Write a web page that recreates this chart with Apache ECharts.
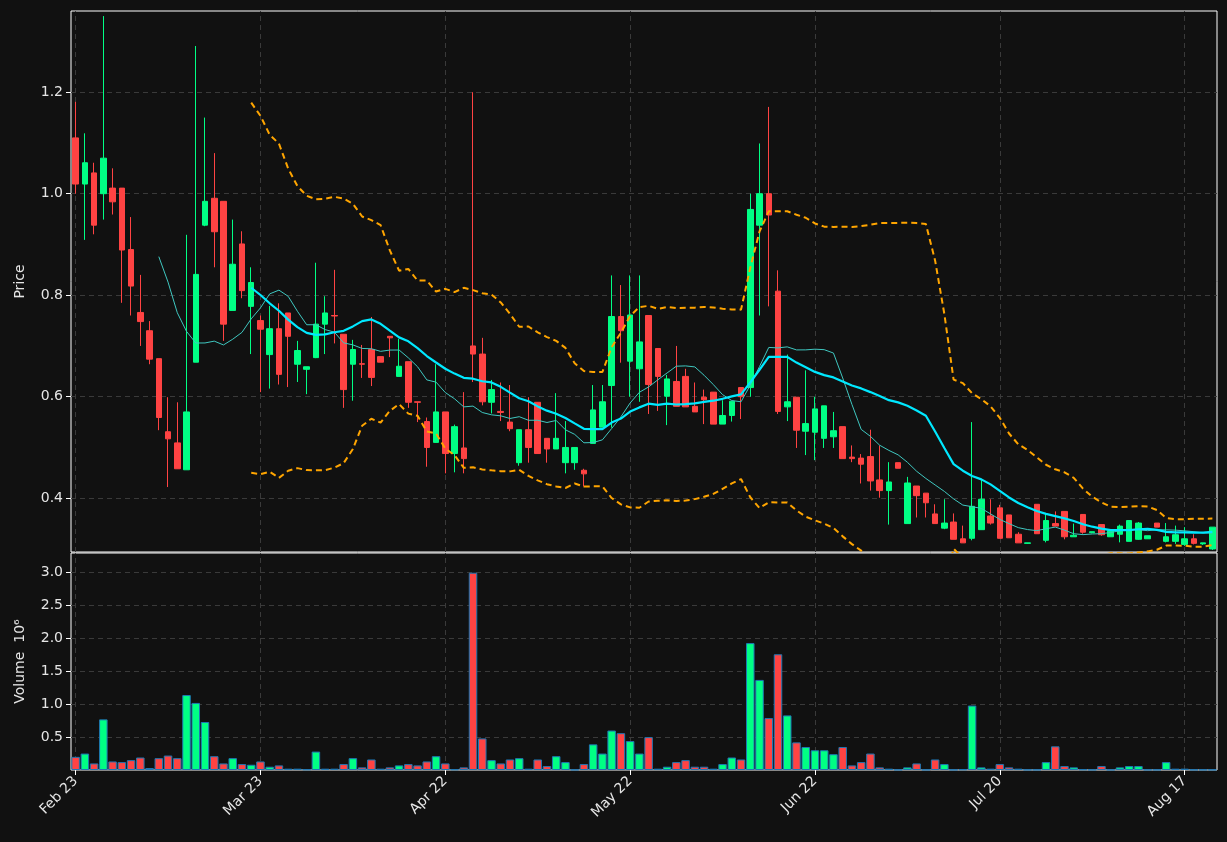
<!DOCTYPE html>
<html>
<head>
<meta charset="utf-8">
<script src="https://cdn.jsdelivr.net/npm/echarts@6/dist/echarts.min.js"></script>
<style>
  html, body { margin: 0; padding: 0; background: #111111; }
  #main { width: 1227px; height: 842px; }
</style>
</head>
<body>
<div id="main"></div>
<script>
// tick labels, one every 20 sessions
var tickLabels = ['Feb 23', 'Mar 23', 'Apr 22', 'May 22', 'Jun 22', 'Jul 20', 'Aug 17'];

var opens = [1.110,1.019,1.041,1.000,1.011,1.011,0.890,0.766,0.730,0.675,
  0.531,0.509,0.456,0.668,0.938,0.991,0.985,0.770,0.901,0.778,
  0.750,0.683,0.734,0.765,0.664,0.654,0.677,0.743,0.760,0.723,
  0.664,0.665,0.693,0.679,0.719,0.640,0.669,0.590,0.551,0.510,
  0.570,0.488,0.499,0.700,0.684,0.589,0.571,0.550,0.470,0.535,
  0.589,0.518,0.497,0.470,0.470,0.455,0.508,0.540,0.622,0.758,
  0.670,0.655,0.760,0.695,0.601,0.630,0.640,0.581,0.599,0.609,
  0.546,0.563,0.618,0.618,0.938,1.000,0.808,0.580,0.599,0.532,
  0.530,0.518,0.521,0.541,0.481,0.479,0.482,0.436,0.415,0.470,
  0.350,0.424,0.410,0.369,0.341,0.353,0.320,0.321,0.338,0.365,
  0.381,0.367,0.329,0.311,0.388,0.317,0.350,0.374,0.324,0.368,
  0.332,0.348,0.324,0.329,0.315,0.319,0.320,0.351,0.315,0.315,
  0.309,0.320,0.310,0.300];
var highs = [1.181,1.119,1.061,1.350,1.050,1.011,0.954,0.840,0.749,0.675,
  0.599,0.589,0.919,1.291,1.150,1.080,0.985,0.949,0.926,0.855,
  0.760,0.779,0.784,0.765,0.710,0.659,0.864,0.798,0.850,0.723,
  0.712,0.702,0.757,0.679,0.719,0.714,0.669,0.590,0.559,0.664,
  0.570,0.545,0.609,1.200,0.716,0.633,0.628,0.623,0.535,0.599,
  0.589,0.518,0.607,0.552,0.500,0.458,0.623,0.623,0.839,0.820,
  0.839,0.839,0.760,0.695,0.643,0.700,0.655,0.628,0.614,0.609,
  0.593,0.591,0.618,1.000,1.099,1.171,0.849,0.683,0.599,0.652,
  0.600,0.582,0.570,0.541,0.504,0.487,0.535,0.504,0.471,0.470,
  0.442,0.424,0.410,0.388,0.398,0.370,0.346,0.550,0.436,0.398,
  0.387,0.367,0.333,0.312,0.388,0.370,0.374,0.374,0.350,0.368,
  0.334,0.348,0.338,0.348,0.356,0.353,0.326,0.351,0.351,0.346,
  0.343,0.329,0.312,0.343];
var lows = [1.000,0.909,0.920,0.949,0.959,0.785,0.760,0.700,0.664,0.534,
  0.422,0.458,0.456,0.668,0.936,0.855,0.710,0.770,0.794,0.684,
  0.609,0.616,0.624,0.619,0.629,0.605,0.676,0.684,0.705,0.578,
  0.592,0.637,0.621,0.668,0.678,0.640,0.578,0.550,0.462,0.510,
  0.449,0.451,0.449,0.629,0.583,0.567,0.552,0.532,0.464,0.470,
  0.488,0.470,0.497,0.449,0.456,0.423,0.508,0.540,0.539,0.667,
  0.600,0.590,0.566,0.572,0.544,0.581,0.580,0.570,0.546,0.546,
  0.546,0.551,0.556,0.600,0.760,0.778,0.566,0.552,0.499,0.485,
  0.475,0.499,0.499,0.478,0.471,0.429,0.415,0.401,0.348,0.459,
  0.350,0.362,0.362,0.350,0.339,0.319,0.312,0.317,0.338,0.348,
  0.321,0.322,0.312,0.310,0.330,0.313,0.345,0.319,0.324,0.330,
  0.331,0.326,0.324,0.313,0.315,0.318,0.320,0.343,0.313,0.310,
  0.306,0.309,0.308,0.298];
var closes = [1.019,1.061,0.938,1.070,0.984,0.889,0.818,0.748,0.674,0.559,
  0.517,0.458,0.570,0.841,0.985,0.925,0.743,0.861,0.809,0.825,
  0.733,0.734,0.644,0.719,0.691,0.659,0.743,0.765,0.759,0.614,
  0.693,0.664,0.638,0.668,0.716,0.660,0.589,0.589,0.500,0.570,
  0.488,0.541,0.478,0.684,0.590,0.614,0.569,0.537,0.535,0.500,
  0.488,0.497,0.518,0.500,0.500,0.448,0.574,0.590,0.758,0.730,
  0.761,0.708,0.624,0.640,0.635,0.581,0.580,0.570,0.594,0.546,
  0.563,0.591,0.600,0.969,1.000,0.958,0.571,0.590,0.534,0.547,
  0.576,0.582,0.533,0.478,0.478,0.467,0.434,0.415,0.432,0.459,
  0.430,0.405,0.391,0.350,0.351,0.319,0.312,0.384,0.398,0.351,
  0.321,0.322,0.312,0.312,0.330,0.356,0.345,0.324,0.327,0.333,
  0.334,0.328,0.336,0.345,0.356,0.351,0.326,0.343,0.324,0.328,
  0.320,0.311,0.312,0.343];
// volume in millions
var volumes = [0.20,0.25,0.10,0.77,0.13,0.12,0.15,0.19,0.03,0.18,
  0.22,0.18,1.14,1.02,0.73,0.21,0.10,0.18,0.09,0.08,
  0.13,0.05,0.07,0.02,0.02,0.01,0.28,0.02,0.02,0.09,
  0.18,0.04,0.16,0.02,0.04,0.07,0.09,0.07,0.13,0.21,
  0.10,0.01,0.04,3.00,0.48,0.15,0.10,0.16,0.18,0.02,
  0.16,0.06,0.21,0.12,0.005,0.09,0.39,0.25,0.60,0.56,
  0.44,0.25,0.50,0.02,0.05,0.12,0.15,0.05,0.05,0.02,
  0.09,0.19,0.16,1.93,1.37,0.79,1.76,0.83,0.42,0.35,
  0.30,0.30,0.24,0.35,0.07,0.12,0.25,0.04,0.02,0.005,
  0.04,0.10,0.005,0.16,0.09,0.005,0.01,0.98,0.04,0.02,
  0.09,0.04,0.02,0.005,0.005,0.12,0.36,0.06,0.04,0.01,
  0.005,0.06,0.005,0.04,0.06,0.06,0.005,0.005,0.12,0.02,
  0.02,0.005,0.005,0.005];

var UP = '#00ff84', DOWN = '#ff4343';

var cats = closes.map(function (c, i) { return i % 20 === 0 ? tickLabels[i / 20] : 'd' + i; });
var candles = closes.map(function (c, i) { return [opens[i], c, lows[i], highs[i]]; });
var volBars = volumes.map(function (v, i) {
  return { value: v, itemStyle: { color: closes[i] >= opens[i] ? UP : DOWN } };
});

function mean(n) {
  return closes.map(function (c, i) {
    if (i < n - 1) return '-';
    var s = 0;
    for (var k = i - n + 1; k <= i; k++) s += closes[k];
    return s / n;
  });
}
function band(n, mult) {
  var m = mean(n);
  return closes.map(function (c, i) {
    if (i < n - 1) return '-';
    var s = 0;
    for (var k = i - n + 1; k <= i; k++) s += Math.pow(closes[k] - m[i], 2);
    return m[i] + mult * Math.sqrt(s / (n - 1));
  });
}

var txt = { color: '#e6e6e6', fontSize: 14, fontFamily: 'DejaVu Sans' };
var gridLine = { color: '#3a3a3a', type: [5, 4], width: 1 };
var split = { show: true, showMinLine: false, showMaxLine: false, lineStyle: gridLine };

// vertical dashed lines at the labelled sessions, on empty helper series kept underneath
var vLines = {
  silent: true, symbol: 'none', label: { show: false }, lineStyle: gridLine,
  data: tickLabels.map(function (t) { return { xAxis: t }; })
};
function helper(ax) {
  return { type: 'line', xAxisIndex: ax, yAxisIndex: ax, data: [], z: 0, silent: true, markLine: vLines };
}

var chart = echarts.init(document.getElementById('main'));
chart.setOption({
  backgroundColor: '#111111',
  animation: false,
  grid: [
    { left: 71, right: 10, top: 11, height: 541, show: true, borderColor: '#ffffff', borderWidth: 1, backgroundColor: 'transparent' },
    { left: 71, right: 10, top: 553, height: 217, show: true, borderColor: '#ffffff', borderWidth: 1, backgroundColor: 'transparent' }
  ],
  xAxis: [
    { type: 'category', data: cats, gridIndex: 0, axisLine: { show: false }, axisTick: { show: false },
      axisLabel: { show: false }, splitLine: { show: false } },
    { type: 'category', data: cats, gridIndex: 1, axisLine: { show: false },
      axisTick: { show: true, interval: 19, alignWithLabel: true, length: 5, lineStyle: { color: '#fff' } },
      axisLabel: Object.assign({ interval: 19, rotate: 45, margin: 9 }, txt),
      splitLine: { show: false } }
  ],
  yAxis: [
    { type: 'value', gridIndex: 0, min: 0.294, max: 1.36, splitNumber: 5, name: 'Price',
      nameLocation: 'middle', nameGap: 44, nameTextStyle: txt,
      axisLine: { show: false }, axisTick: { show: true, length: 5, lineStyle: { color: '#fff' } },
      axisLabel: Object.assign({ showMinLabel: false, showMaxLabel: false, formatter: function (v) { return v.toFixed(1); } }, txt),
      splitLine: split },
    { type: 'value', gridIndex: 1, min: 0, max: 3.3, interval: 0.5, name: 'Volume  10\u2076',
      nameLocation: 'middle', nameGap: 44, nameTextStyle: txt,
      axisLine: { show: false }, axisTick: { show: true, length: 5, lineStyle: { color: '#fff' } },
      axisLabel: Object.assign({ showMinLabel: false, showMaxLabel: false, formatter: function (v) { return v.toFixed(1); } }, txt),
      splitLine: split }
  ],
  series: [
    helper(0),
    helper(1),
    { type: 'candlestick', xAxisIndex: 0, yAxisIndex: 0, data: candles, barWidth: '65%', z: 5,
      itemStyle: { color: UP, color0: DOWN, borderColor: UP, borderColor0: DOWN, borderWidth: 1 } },
    { type: 'line', xAxisIndex: 0, yAxisIndex: 0, data: mean(10), symbol: 'none', z: 6,
      lineStyle: { color: '#3fc7c0', width: 1 } },
    { type: 'line', xAxisIndex: 0, yAxisIndex: 0, data: mean(20), symbol: 'none', z: 6,
      lineStyle: { color: '#00e8ff', width: 2.2 } },
    { type: 'line', xAxisIndex: 0, yAxisIndex: 0, data: band(20, 2), symbol: 'none', z: 6,
      lineStyle: { color: '#ffa500', width: 2, type: [6, 4] } },
    { type: 'line', xAxisIndex: 0, yAxisIndex: 0, data: band(20, -2), symbol: 'none', z: 6,
      lineStyle: { color: '#ffa500', width: 2, type: [6, 4] } },
    { type: 'bar', xAxisIndex: 1, yAxisIndex: 1, data: volBars, barWidth: '92%', z: 5,
      itemStyle: { borderColor: '#1f77b4', borderWidth: 1 } }
  ]
});
</script>
</body>
</html>
